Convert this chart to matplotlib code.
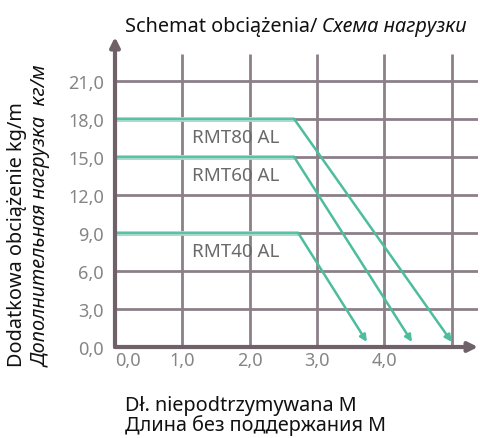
import matplotlib
matplotlib.use('Agg')
import matplotlib.pyplot as plt

plt.rcParams['font.family'] = ['Noto Sans', 'DejaVu Sans']

# data
series = ['RMT80 AL', 'RMT60 AL', 'RMT40 AL']
loads = [18.0, 15.0, 9.0]          # kg/m, flat part
x_break = [2.66, 2.66, 2.72]       # m, where the load starts to fall
x_end = [5.0, 4.41, 3.74]          # m, max unsupported length
y_end = [0.4, 0.4, 0.4]
x_ticks = [0, 1, 2, 3, 4]
x_tick_labels = ['0,0', '1,0', '2,0', '3,0', '4,0']
x_grid = [1, 2, 3, 4, 5]
y_ticks = [0, 3, 6, 9, 12, 15, 18, 21]
y_tick_labels = ['0,0', '3,0', '6,0', '9,0', '12,0', '15,0', '18,0', '21,0']

grid_color = '#8c8087'
axis_color = '#6e6268'
green = '#4dbd9d'
green_light = '#a3dac9'
tick_color = '#858585'
text_size = 14.3

W, H = 480, 439
fig = plt.figure(figsize=(W / 100, H / 100), dpi=100)
ax = fig.add_axes([115 / W, (H - 348) / H, (478 - 115) / W, (348 - 38) / H])
ax.set_xlim(0, 5.39)
ax.set_ylim(0, 24.47)
for s in ax.spines.values():
    s.set_visible(False)

# grid
ax.vlines(x_grid, 0, 23.1, color=grid_color, lw=2, zorder=1)
ax.hlines(y_ticks[1:], 0, 5.39, color=grid_color, lw=2, zorder=1)

# axes with arrows
ax.annotate('', xy=(1, 0), xytext=(0, 0), xycoords='axes fraction',
            arrowprops=dict(arrowstyle='-|>', color=axis_color, lw=3,
                            mutation_scale=14, shrinkA=0, shrinkB=0), zorder=3)
ax.annotate('', xy=(0, 1), xytext=(0, 0), xycoords='axes fraction',
            arrowprops=dict(arrowstyle='-|>', color=axis_color, lw=3,
                            mutation_scale=14, shrinkA=0, shrinkB=0), zorder=3)

# load curves
for name, load, xb, xe, ye in zip(series, loads, x_break, x_end, y_end):
    ax.plot([0, xb], [load, load], color=green_light, lw=3.5, zorder=2,
            solid_capstyle='butt')
    ax.plot([0, xb], [load, load], color=green, lw=1.2, zorder=2)
    ax.annotate('', xy=(xe, ye), xytext=(xb, load),
                arrowprops=dict(arrowstyle='-|>', color=green, lw=1.8,
                                mutation_scale=10, shrinkA=0, shrinkB=0), zorder=2)
    ax.text(1.14, load - 1.45, name, color='#6a6a6a', fontsize=13.5,
            va='center', ha='left', zorder=4)

ax.set_xticks(x_ticks)
ax.set_xticklabels(x_tick_labels)
ax.set_yticks(y_ticks)
ax.set_yticklabels(y_tick_labels)
ax.tick_params(length=0, colors=tick_color, labelsize=13)
ax.tick_params(axis='x', pad=3)
ax.tick_params(axis='y', pad=8)
ax.get_xticklabels()[0].set_ha('left')

# title: regular + italic part
t1 = fig.text(125 / W, (H - 32) / H, 'Schemat obciążenia/ ', fontsize=text_size,
              color='#111111', ha='left', va='baseline')
ax.annotate('Схема нагрузки', xy=(1, 0), xycoords=t1, fontsize=text_size,
            style='italic', color='#111111', ha='left', va='bottom',
            annotation_clip=False)

# y label, two lines
fig.text(17 / W, (H - 367) / H, 'Dodatkowa obciążenie kg/m', rotation=90,
         fontsize=text_size, color='#111111', ha='center', va='bottom')
fig.text(42 / W, (H - 367) / H, 'Дополнительная нагрузка  кг/м', rotation=90,
         fontsize=text_size, style='italic', color='#111111', ha='center', va='bottom')

# x label, two lines
fig.text(125 / W, (H - 411) / H, 'Dł. niepodtrzymywana M', fontsize=text_size,
         color='#111111', ha='left', va='baseline')
fig.text(125 / W, (H - 431) / H, 'Длина без поддержания M', fontsize=text_size,
         color='#111111', ha='left', va='baseline')

fig.savefig('out.png', dpi=100)
